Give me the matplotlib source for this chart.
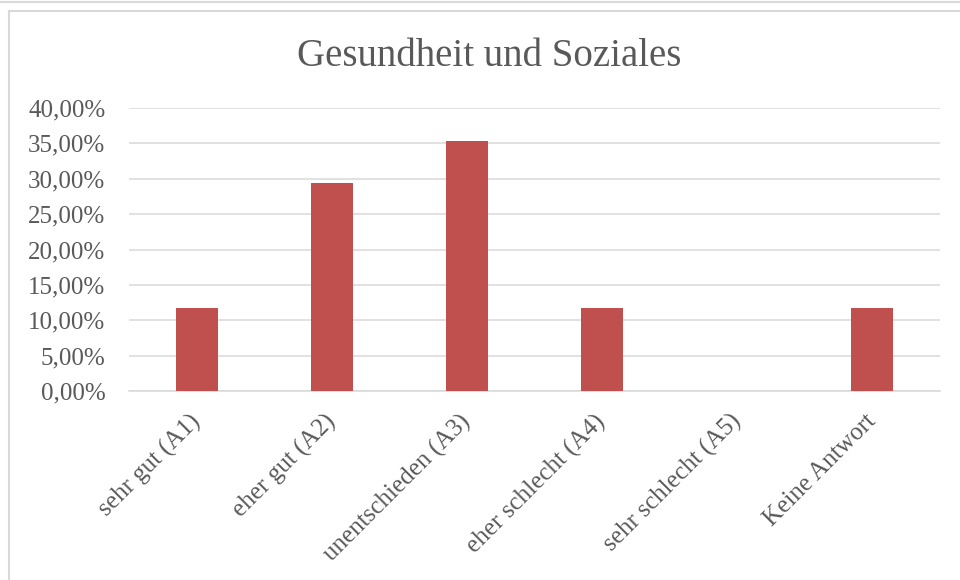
import matplotlib
matplotlib.use("Agg")
import matplotlib.pyplot as plt
from matplotlib.lines import Line2D
from matplotlib.ticker import FuncFormatter
from matplotlib.transforms import ScaledTranslation

# ── Daten ──────────────────────────────────────────
categories = ["sehr gut (A1)", "eher gut (A2)", "unentschieden (A3)",
              "eher schlecht (A4)", "sehr schlecht (A5)", "Keine Antwort"]
shares = [0.1176, 0.2941, 0.3529, 0.1176, 0.0, 0.1176]
yticks = [0.0, 0.05, 0.10, 0.15, 0.20, 0.25, 0.30, 0.35, 0.40]

TEXT = "#595959"
GRID = "#D9D9D9"
BAR = "#C0504D"

plt.rcParams["font.family"] = ["Liberation Serif", "DejaVu Serif"]

fig = plt.figure(figsize=(9.6, 5.8), dpi=100)
ax = fig.add_axes([129 / 960, 1 - 391 / 580, (940 - 129) / 960, (391 - 108) / 580])

x = list(range(len(categories)))
ax.bar(x, shares, width=0.31, color=BAR, zorder=3)

ax.set_xlim(-0.5, len(categories) - 0.5)
ax.set_ylim(0, 0.40)
ax.set_yticks(yticks)
ax.yaxis.set_major_formatter(FuncFormatter(lambda v, _: f"{v * 100:.2f}%".replace(".", ",")))
ax.grid(axis="y", color=GRID, lw=1.1, zorder=0)
for side in ("top", "right", "left"):
    ax.spines[side].set_visible(False)
ax.spines["bottom"].set_color(GRID)
ax.spines["bottom"].set_linewidth(1.1)
ax.tick_params(axis="y", length=0, pad=17, labelsize=18, labelcolor=TEXT)
ax.tick_params(axis="x", length=0, pad=8, labelsize=18, labelcolor=TEXT)
ax.set_xticks(x)
ax.set_xticklabels(categories, rotation=45, ha="right", rotation_mode="anchor")
shift = ScaledTranslation(-8 / 100, -8 / 100, fig.dpi_scale_trans)
for lbl in ax.get_xticklabels():
    lbl.set_transform(lbl.get_transform() + shift)

fig.text(489 / 960, 1 - 57 / 580, "Gesundheit und Soziales", ha="center", va="center",
         fontsize=28, color=TEXT)

# Rahmen (Excel-Diagrammbereich)
fig.add_artist(Line2D([0, 1], [1 - 2 / 580] * 2, transform=fig.transFigure, color=GRID, lw=1.5))
fig.add_artist(Line2D([9 / 960, 1], [1 - 11 / 580] * 2, transform=fig.transFigure, color=GRID, lw=1.5))
fig.add_artist(Line2D([9 / 960] * 2, [0, 1 - 11 / 580], transform=fig.transFigure, color=GRID, lw=1.5))

fig.savefig("out.png", dpi=100)
